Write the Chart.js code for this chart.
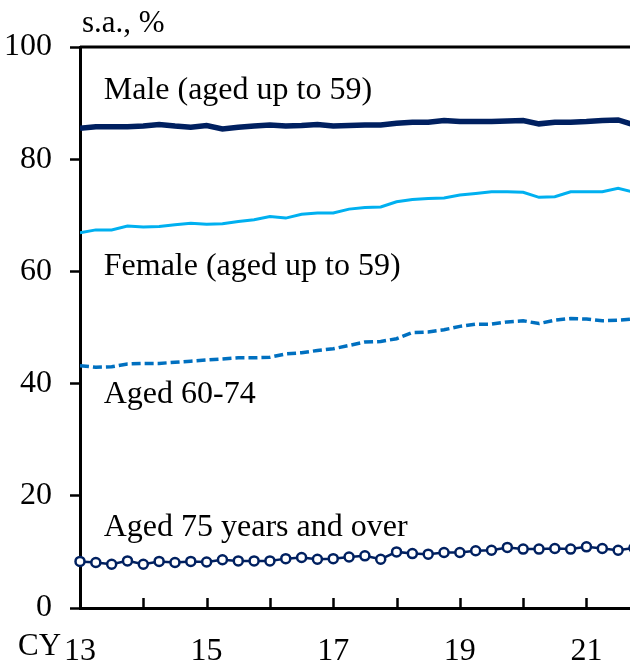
<!DOCTYPE html>
<html>
<head>
<meta charset="utf-8">
<script src="https://cdn.jsdelivr.net/npm/chart.js@4.4.1/dist/chart.umd.min.js"></script>
<style>
  html, body { margin: 0; padding: 0; background: #fff; }
  canvas { display: block; }
</style>
</head>
<body>
<canvas id="employmentChart" width="630" height="661"></canvas>
<script>
// quarterly, CY2013 Q1 .. CY2021 Q4
const quarters = [
    '13Q1','13Q2','13Q3','13Q4','14Q1','14Q2','14Q3','14Q4',
    '15Q1','15Q2','15Q3','15Q4','16Q1','16Q2','16Q3','16Q4',
    '17Q1','17Q2','17Q3','17Q4','18Q1','18Q2','18Q3','18Q4',
    '19Q1','19Q2','19Q3','19Q4','20Q1','20Q2','20Q3','20Q4',
    '21Q1','21Q2','21Q3','21Q4'
];
const yearLabels = ['13', '14', '15', '16', '17', '18', '19', '20', '21'];
const yTicks = [0, 20, 40, 60, 80, 100];

const maleUpTo59 = [
    85.5, 85.8, 85.8, 85.8, 85.9, 86.2, 85.9, 85.7, 86.0, 85.4, 85.7, 85.9,
    86.1, 85.9, 86.0, 86.2, 85.9, 86.0, 86.1, 86.1, 86.4, 86.6, 86.6, 86.9,
    86.7, 86.7, 86.7, 86.8, 86.9, 86.3, 86.6, 86.6, 86.7, 86.9, 87.0, 86.1
];
const femaleUpTo59 = [
    66.9, 67.4, 67.4, 68.1, 67.9, 68.0, 68.3, 68.6, 68.4, 68.5, 68.9, 69.2,
    69.8, 69.5, 70.2, 70.4, 70.4, 71.1, 71.4, 71.5, 72.4, 72.8, 73.0, 73.1,
    73.6, 73.9, 74.2, 74.2, 74.1, 73.2, 73.3, 74.2, 74.2, 74.2, 74.8, 74.1
];
const aged60to74 = [
    43.2, 42.9, 43.0, 43.5, 43.6, 43.6, 43.8, 44.0, 44.2, 44.4, 44.6, 44.6,
    44.7, 45.3, 45.5, 45.9, 46.2, 46.8, 47.4, 47.5, 48.0, 49.1, 49.2, 49.6,
    50.2, 50.6, 50.6, 51.0, 51.2, 50.7, 51.3, 51.6, 51.5, 51.2, 51.3, 51.5
];
const aged75Over = [
    8.3, 8.1, 7.8, 8.4, 7.8, 8.3, 8.1, 8.3, 8.2, 8.6, 8.4, 8.4,
    8.4, 8.8, 9.0, 8.7, 8.8, 9.1, 9.3, 8.7, 10.0, 9.7, 9.6, 9.9,
    9.9, 10.2, 10.3, 10.8, 10.5, 10.5, 10.6, 10.5, 10.9, 10.6, 10.3, 10.7
];

const NAVY = '#002060';
const SKY = '#00B0F0';
const BLUE = '#0070C0';
const FONT = "'Liberation Serif', 'Times New Roman', serif";

function toPoints(values) {
    return values.map((v, i) => ({ x: i, y: v }));
}

// series captions placed in data space: [text, x (quarter index), y (%)]
const captions = [
    ['Male (aged up to 59)', 1.5, 92.2],
    ['Female (aged up to 59)', 1.5, 60.8],
    ['Aged 60-74', 1.5, 38.1],
    ['Aged 75 years and over', 1.5, 14.4]
];

const decorations = {
    id: 'decorations',
    afterDraw(chart) {
        const { ctx, chartArea, scales } = chart;
        const x = scales.x, y = scales.y;
        ctx.save();
        ctx.strokeStyle = '#000';

        // top frame line
        ctx.lineWidth = 3;
        ctx.beginPath();
        ctx.moveTo(chartArea.left, chartArea.top);
        ctx.lineTo(chartArea.right, chartArea.top);
        ctx.stroke();

        // year ticks pointing into the plot
        ctx.lineWidth = 2.5;
        yearLabels.forEach((_, i) => {
            const px = Math.round(x.getPixelForValue(i * 4)) + 0.5;
            ctx.beginPath();
            ctx.moveTo(px, chartArea.bottom);
            ctx.lineTo(px, chartArea.bottom - 10);
            ctx.stroke();
        });

        ctx.fillStyle = '#000';
        ctx.font = '31px ' + FONT;
        ctx.textAlign = 'left';
        ctx.textBaseline = 'alphabetic';
        ctx.fillText('s.a., %', chartArea.left + 2, chartArea.top - 15);
        ctx.fillText('CY', 18, 655);

        ctx.font = '32px ' + FONT;
        ctx.textBaseline = 'middle';
        captions.forEach(([text, cx, cy]) => {
            ctx.fillText(text, x.getPixelForValue(cx), y.getPixelForValue(cy));
        });
        ctx.restore();
    }
};

const ctx = document.getElementById('employmentChart').getContext('2d');
const employmentChart = new Chart(ctx, {
    type: 'line',
    data: {
        labels: quarters,
        datasets: [{
            label: 'Male (aged up to 59)',
            data: toPoints(maleUpTo59),
            borderColor: NAVY,
            borderWidth: 5.5,
            pointRadius: 0
        }, {
            label: 'Female (aged up to 59)',
            data: toPoints(femaleUpTo59),
            borderColor: SKY,
            borderWidth: 3,
            pointRadius: 0
        }, {
            label: 'Aged 60-74',
            data: toPoints(aged60to74),
            borderColor: BLUE,
            borderWidth: 3.5,
            borderDash: [9, 4],
            pointRadius: 0
        }, {
            label: 'Aged 75 years and over',
            data: toPoints(aged75Over),
            borderColor: NAVY,
            borderWidth: 2.5,
            pointRadius: 4.5,
            pointBorderWidth: 2.5,
            pointBorderColor: NAVY,
            pointBackgroundColor: '#fff',
            clip: false
        }]
    },
    options: {
        responsive: false,
        animation: false,
        layout: {
            autoPadding: false,
            padding: { top: 47, right: 0, bottom: 0, left: 0 }
        },
        scales: {
            x: {
                type: 'linear',
                min: 0,
                max: 34.75,
                afterBuildTicks: axis => {
                    axis.ticks = yearLabels.map((_, i) => ({ value: i * 4 }));
                },
                afterFit: axis => {
                    axis.height = 53;
                    axis.paddingLeft = 0;
                    axis.paddingRight = 0;
                },
                ticks: {
                    autoSkip: false,
                    maxRotation: 0,
                    padding: 24,
                    color: '#000',
                    font: { family: FONT, size: 32 },
                    callback: function(value) {
                        const i = Math.round(value / 4);
                        return i % 2 === 0 ? yearLabels[i] : '';
                    }
                },
                grid: {
                    display: true,
                    drawOnChartArea: false,
                    drawTicks: false
                },
                border: { color: '#000', width: 3 }
            },
            y: {
                min: 0,
                max: 100,
                afterBuildTicks: axis => {
                    axis.ticks = yTicks.map(v => ({ value: v }));
                },
                afterFit: axis => { axis.width = 80; },
                ticks: {
                    padding: 18,
                    color: '#000',
                    font: { family: FONT, size: 32 }
                },
                grid: {
                    display: true,
                    drawOnChartArea: false,
                    tickLength: 10,
                    tickWidth: 2.5,
                    tickColor: '#000'
                },
                border: { color: '#000', width: 3 }
            }
        },
        plugins: {
            legend: { display: false },
            tooltip: { enabled: false }
        }
    },
    plugins: [decorations]
});
</script>
</body>
</html>
